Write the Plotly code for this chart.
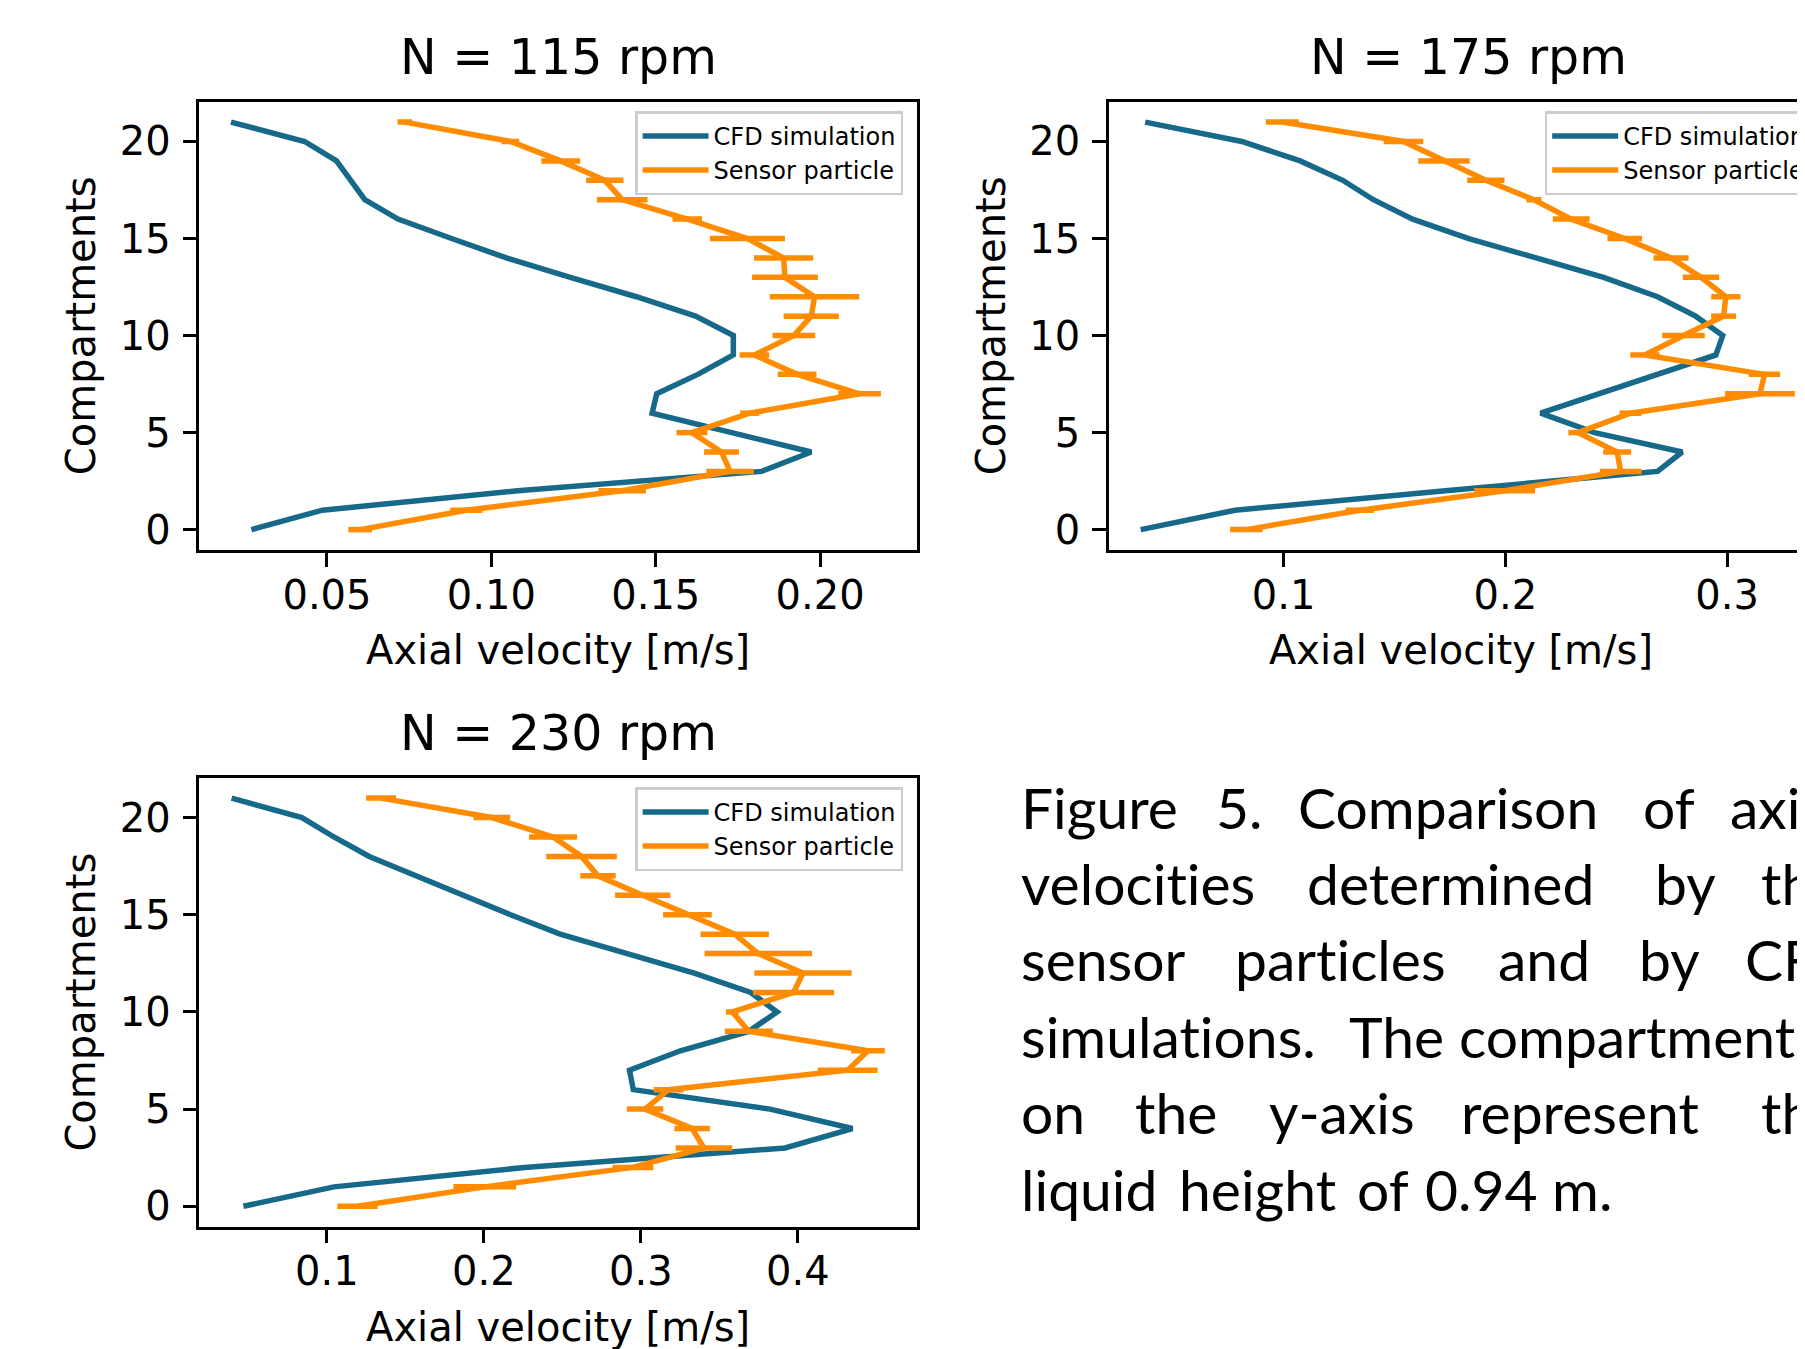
import plotly.graph_objects as go

# ---------------- data ----------------
compartments = list(range(22))

cfd_115 = [0.0270, 0.0486, 0.108, 0.1822, 0.1973, 0.1733, 0.1489, 0.1503, 0.1628, 0.1736, 0.1736,
           0.1621, 0.1441, 0.1240, 0.1046, 0.0879, 0.0716, 0.0615, 0.0572, 0.0529, 0.0432, 0.0208]
sensor_115 = [0.0601, 0.0924, 0.1398, 0.1726, 0.1700, 0.1610, 0.1786, 0.2120, 0.1930, 0.1800, 0.1920,
              0.1973, 0.1983, 0.1893, 0.1889, 0.1779, 0.1596, 0.1398, 0.1345, 0.1211, 0.1058, 0.0737]
sensor_115_err = [0.0036, 0.0049, 0.0072, 0.0072, 0.0053, 0.0047, 0.0029, 0.0065, 0.0059, 0.0045, 0.0065,
                  0.0084, 0.0136, 0.0100, 0.0090, 0.0114, 0.0045, 0.0077, 0.0057, 0.0059, 0.0027, 0.0022]

cfd_175 = [0.0356, 0.0781, 0.1730, 0.2686, 0.2797, 0.2402, 0.2159, 0.2422, 0.2686, 0.2949, 0.2980,
           0.2858, 0.2686, 0.2443, 0.2139, 0.1835, 0.1582, 0.1405, 0.1267, 0.1075, 0.0812, 0.0376]
sensor_175 = [0.0832, 0.1344, 0.1997, 0.2520, 0.2504, 0.2327, 0.2564, 0.3148, 0.3168, 0.2629, 0.2803,
              0.2984, 0.2994, 0.2882, 0.2747, 0.2538, 0.2297, 0.2129, 0.1912, 0.1723, 0.1541, 0.0994]
sensor_175_err = [0.0073, 0.0063, 0.0137, 0.0094, 0.0063, 0.0043, 0.0049, 0.0157, 0.0071, 0.0066, 0.0096,
                  0.0056, 0.0066, 0.0082, 0.0079, 0.0078, 0.0083, 0.0034, 0.0084, 0.0116, 0.0089, 0.0074]

cfd_230 = [0.0468, 0.1045, 0.2260, 0.3919, 0.4348, 0.3823, 0.2952, 0.2928, 0.3252, 0.3688, 0.3868,
           0.3700, 0.3340, 0.2920, 0.2486, 0.2170, 0.1865, 0.1570, 0.1270, 0.1045, 0.0841, 0.0393]
sensor_230 = [0.1195, 0.2006, 0.2950, 0.3402, 0.3327, 0.3027, 0.3177, 0.4318, 0.4447, 0.3688, 0.3583,
              0.3973, 0.4033, 0.3748, 0.3598, 0.3297, 0.3012, 0.2727, 0.2622, 0.2441, 0.2051, 0.1345]
sensor_230_err = [0.0128, 0.0200, 0.0130, 0.0180, 0.0113, 0.0116, 0.0095, 0.0190, 0.0107, 0.0153, 0.0040,
                  0.0258, 0.0310, 0.0342, 0.0218, 0.0155, 0.0176, 0.0113, 0.0225, 0.0153, 0.0117, 0.0095]

series_names = ["CFD simulation", "Sensor particle"]
panel_titles = ["N = 115 rpm", "N = 175 rpm", "N = 230 rpm"]
x_title = "Axial velocity [m/s]"
y_title = "Compartments"

x_tickvals_115 = [0.05, 0.10, 0.15, 0.20]
x_ticktext_115 = ["0.05", "0.10", "0.15", "0.20"]
x_tickvals_175 = [0.1, 0.2, 0.3]
x_ticktext_175 = ["0.1", "0.2", "0.3"]
x_tickvals_230 = [0.1, 0.2, 0.3, 0.4]
x_ticktext_230 = ["0.1", "0.2", "0.3", "0.4"]
y_tickvals = [0, 5, 10, 15, 20]
y_ticktext = ["0", "5", "10", "15", "20"]

caption_lines = [
    ["Figure", "5.", "Comparison", "of", "axial"],
    ["velocities", "determined", "by", "the"],
    ["sensor", "particles", "and", "by", "CFD"],
    ["simulations.", "The", "compartments"],
    ["on", "the", "y-axis", "represent", "the"],
    ["liquid", "height", "of", "0.94", "m."],
]

# ---------------- layout / style ----------------
W, H = 1805, 1349
OFF = 8  # the page body margin: the figure starts 8 px from the window corner
CFD_COLOR = "#17698a"
SENSOR_COLOR = "#ff8c00"
FONT = "DejaVu Sans"
LW = 5.5
AXW = 3.1


def fx(x):  # window pixel -> paper x
    return (x - OFF) / W


def fy(y):  # window pixel -> paper y
    return 1 - (y - OFF) / H


# panel boxes in window pixels: (left, right, top, bottom)
panels = [
    dict(box=(199.4, 916.8, 101.7, 550.0), xr=[0.0112, 0.2294], tv=x_tickvals_115, tt=x_ticktext_115,
         cfd=cfd_115, sen=sensor_115, err=sensor_115_err, mirror_y=True),
    dict(box=(1109.0, W + OFF, 101.7, 550.0), xr=[0.0213, 0.3387], tv=x_tickvals_175, tt=x_ticktext_175,
         cfd=cfd_175, sen=sensor_175, err=sensor_175_err, mirror_y=False),
    dict(box=(199.4, 916.8, 777.7, 1226.7), xr=[0.0188, 0.4758], tv=x_tickvals_230, tt=x_ticktext_230,
         cfd=cfd_230, sen=sensor_230, err=sensor_230_err, mirror_y=True),
]

fig = go.Figure()
annotations = []
layout_axes = {}

for i, p in enumerate(panels):
    n = "" if i == 0 else str(i + 1)
    xa, ya = "x" + n, "y" + n
    leg = "legend" + n
    l, r, t, b = p["box"]

    fig.add_trace(go.Scatter(
        x=p["cfd"], y=compartments, mode="lines", name=series_names[0],
        line=dict(color=CFD_COLOR, width=LW), xaxis=xa, yaxis=ya, legend=leg))
    fig.add_trace(go.Scatter(
        x=p["sen"], y=compartments, mode="lines", name=series_names[1],
        line=dict(color=SENSOR_COLOR, width=LW), xaxis=xa, yaxis=ya, legend=leg,
        error_x=dict(type="data", array=p["err"], visible=True, color=SENSOR_COLOR,
                     thickness=LW, width=0)))

    axis_common = dict(showline=True, linecolor="black", linewidth=AXW, ticks="outside",
                       ticklen=13.7, tickwidth=AXW, tickcolor="black", showgrid=False, zeroline=False,
                       tickfont=dict(family=FONT, size=40, color="black"))
    layout_axes["xaxis" + n] = dict(
        axis_common, domain=[fx(l), fx(r)], anchor=ya, range=p["xr"], tickmode="array",
        tickvals=p["tv"], ticktext=p["tt"], mirror=True, ticklabelstandoff=-6,
        title=dict(text=x_title, font=dict(family=FONT, size=40, color="black"), standoff=20))
    layout_axes["yaxis" + n] = dict(
        axis_common, domain=[fy(b), fy(t)], anchor=xa, range=[-1.05, 22.05], tickmode="array",
        tickvals=y_tickvals, ticktext=y_ticktext, mirror=p["mirror_y"], ticklabelstandoff=4,
        title=dict(text=y_title, font=dict(family=FONT, size=40, color="black"), standoff=12))

    layout_axes[leg] = dict(
        x=fx(l + 435.7), y=fy(t + 9.6), xanchor="left", yanchor="top",
        bgcolor="rgba(255,255,255,0.8)", bordercolor="#cccccc", borderwidth=2.5,
        font=dict(family=FONT, size=24, color="black"), itemwidth=66, tracegroupgap=0)

    annotations.append(dict(
        text=panel_titles[i], x=fx(l + 359), y=fy(t - 44), xref="paper", yref="paper",
        xanchor="center", yanchor="middle", showarrow=False,
        font=dict(family=FONT, size=49, color="black")))

# caption: justified paragraph, each word positioned (window pixels)
caption_x = [
    [1019, 1213.9, 1296.3, 1640.6, 1727.6],
    [1019, 1305.0, 1652.7, 1758.8],
    [1019, 1232.9, 1496.2, 1637.0, 1742.8],
    [1019, 1346.8, 1457.0],
    [1019, 1133.1, 1266.6, 1459.4, 1758.7],
    [1019, 1177.0, 1355.4, 1422.5, 1549.5],
]
baseline0, line_gap = 826.5, 76.4
for li, (words, xs) in enumerate(zip(caption_lines, caption_x)):
    yb = baseline0 + li * line_gap
    for w, x in zip(words, xs):
        annotations.append(dict(
            text='<span style="font-variant-ligatures:none">' + w + '</span>',
            x=fx(x), y=fy(yb - 20), xref="paper", yref="paper", xanchor="left",
            yanchor="middle", showarrow=False, font=dict(family="Lato", size=57, color="black")))

fig.update_layout(
    width=W, height=H, margin=dict(l=0, r=0, t=0, b=0, autoexpand=False),
    paper_bgcolor="white", plot_bgcolor="white", showlegend=True,
    annotations=annotations, **layout_axes)

fig.write_html("out.html")
